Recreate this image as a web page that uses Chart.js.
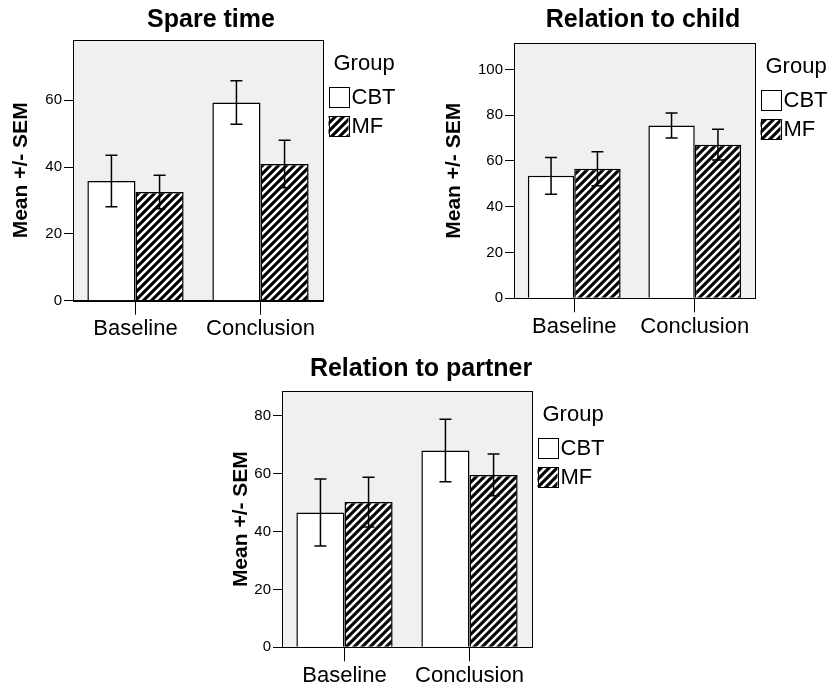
<!DOCTYPE html>
<html>
<head>
<meta charset="utf-8">
<title>Mean +/- SEM by group</title>
<script src="https://cdn.jsdelivr.net/npm/chart.js"></script>
<style>
  html, body { margin: 0; padding: 0; background: #fff; }
  #wrap { position: relative; width: 829px; height: 686px; overflow: hidden; }
  canvas { position: absolute; }
</style>
</head>
<body>
<div id="wrap">
  <canvas id="spareTime"></canvas>
  <canvas id="relChild"></canvas>
  <canvas id="relPartner"></canvas>
</div>
<script>
const categories = ['Baseline', 'Conclusion'];
const groups = ['CBT', 'MF'];

// Spare time
const spareCBT = [35.8, 59.3];
const spareMF = [32.5, 40.9];
const spareCBTsem = [7.7, 6.5];
const spareMFsem = [5.0, 7.1];
const spareTicks = [0, 20, 40, 60];

// Relation to child
const childCBT = [53.5, 75.5];
const childMF = [56.6, 67.1];
const childCBTsem = [8.0, 5.5];
const childMFsem = [7.4, 6.7];
const childTicks = [0, 20, 40, 60, 80, 100];

// Relation to partner
const partnerCBT = [46.6, 68.0];
const partnerMF = [50.2, 59.6];
const partnerCBTsem = [11.6, 10.8];
const partnerMFsem = [8.6, 7.2];
const partnerTicks = [0, 20, 40, 60, 80];

const FONT = "'Liberation Sans', Arial, sans-serif";
Chart.defaults.font.family = FONT;
Chart.defaults.color = '#000';

function hatch() {
  const c = document.createElement('canvas');
  c.width = c.height = 8;
  const g = c.getContext('2d');
  g.fillStyle = '#000';
  g.fillRect(0, 0, 8, 8);
  g.strokeStyle = '#fff';
  g.lineWidth = 2.6;
  g.beginPath();
  g.moveTo(-1, 9); g.lineTo(9, -1);
  g.moveTo(-1, 1); g.lineTo(1, -1);
  g.moveTo(7, 9); g.lineTo(9, 7);
  g.stroke();
  return g.createPattern(c, 'repeat');
}

// grey plot background + black frame
const plotFrame = {
  id: 'plotFrame',
  beforeDraw(chart) {
    const a = chart.chartArea, ctx = chart.ctx;
    ctx.save();
    ctx.fillStyle = '#f0f0f0';
    ctx.fillRect(a.left, a.top, a.right - a.left, a.bottom - a.top);
    ctx.restore();
  },
  afterDraw(chart) {
    const a = chart.chartArea, ctx = chart.ctx;
    ctx.save();
    ctx.strokeStyle = '#000';
    ctx.lineWidth = 1;
    ctx.strokeRect(Math.round(a.left) + 0.5, Math.round(a.top) + 0.5,
      Math.round(a.right - a.left), Math.round(a.bottom - a.top));
    ctx.restore();
  }
};

const errorBars = {
  id: 'errorBars',
  afterDatasetsDraw(chart) {
    const ctx = chart.ctx, y = chart.scales.y;
    ctx.save();
    ctx.strokeStyle = '#000';
    ctx.lineWidth = 1.5;
    chart.data.datasets.forEach((ds, i) => {
      chart.getDatasetMeta(i).data.forEach((bar, j) => {
        const hi = y.getPixelForValue(ds.data[j] + ds.sem[j]);
        const lo = y.getPixelForValue(ds.data[j] - ds.sem[j]);
        ctx.beginPath();
        ctx.moveTo(bar.x, hi); ctx.lineTo(bar.x, lo);
        ctx.moveTo(bar.x - 6, hi); ctx.lineTo(bar.x + 6, hi);
        ctx.moveTo(bar.x - 6, lo); ctx.lineTo(bar.x + 6, lo);
        ctx.stroke();
      });
    });
    ctx.restore();
  }
};

// built-in legend is hidden but keeps a fixed width on the right
const legendWidth = {
  id: 'legendWidth',
  beforeLayout(chart, args, opts) {
    const lg = chart.legend;
    if (!lg || lg.$fixed) return;
    const fit = lg.fit;
    lg.fit = function () { fit.call(this); this.width = opts.width; };
    lg.$fixed = true;
  }
};

// SPSS style "Group" legend, tight box/label spacing
const groupLegend = {
  id: 'groupLegend',
  afterDraw(chart) {
    const ctx = chart.ctx, a = chart.chartArea;
    const x = a.right + 5.5;
    ctx.save();
    ctx.font = '22px ' + FONT;
    ctx.textBaseline = 'middle';
    ctx.fillStyle = '#000';
    ctx.fillText('Group', x + 5, a.top + 23.5);
    chart.data.datasets.forEach((ds, i) => {
      const y = Math.round(a.top + 47 + i * 28.5);
      ctx.fillStyle = ds.backgroundColor;
      ctx.fillRect(x, y, 20, 20);
      ctx.strokeStyle = '#000';
      ctx.lineWidth = 1;
      ctx.strokeRect(Math.round(x) + 0.5, y + 0.5, 20, 20);
      ctx.fillStyle = '#000';
      ctx.fillText(ds.label, x + 23, y + 11);
    });
    ctx.restore();
  }
};

function panel(id, box, title, cbt, mf, cbtSem, mfSem, ticks, yMax) {
  const canvas = document.getElementById(id);
  canvas.width = box.w;
  canvas.height = box.h;
  canvas.style.left = box.left + 'px';
  canvas.style.top = box.top + 'px';

  return new Chart(canvas.getContext('2d'), {
    type: 'bar',
    data: {
      labels: categories,
      datasets: [
        { label: groups[0], data: cbt, sem: cbtSem, backgroundColor: '#fff',
          borderColor: '#000', borderWidth: 1.5 },
        { label: groups[1], data: mf, sem: mfSem, backgroundColor: hatch(),
          borderColor: '#000', borderWidth: 1.5 }
      ]
    },
    options: {
      responsive: false,
      animation: false,
      categoryPercentage: 0.77,
      barPercentage: 1,
      layout: { padding: 0 },
      plugins: {
        title: {
          display: true,
          text: title,
          color: '#000',
          font: { size: 25, weight: 'bold' },
          padding: { top: box.titleTop, bottom: box.titleBottom }
        },
        legend: { display: false, position: 'right' },
        legendWidth: { width: box.legendW },
        tooltip: { enabled: false }
      },
      scales: {
        x: {
          offset: true,
          grid: { offset: false, drawOnChartArea: false, tickLength: 14, color: '#000' },
          border: { color: '#000' },
          ticks: { color: '#000', font: { size: 22 }, padding: 1 },
          afterFit: s => { s.height = box.xh; }
        },
        y: {
          min: 0,
          max: yMax,
          afterBuildTicks: s => { s.ticks = ticks.map(v => ({ value: v })); },
          grid: { drawOnChartArea: false, tickLength: 9, color: '#000' },
          border: { color: '#000' },
          ticks: { color: '#000', font: { size: 15 }, padding: 2 },
          title: {
            display: true,
            text: 'Mean +/- SEM',
            color: '#000',
            font: { size: 21, weight: 'bold' },
            padding: { top: 9, bottom: 0 }
          },
          afterFit: s => { s.width = box.yw; }
        }
      }
    },
    plugins: [plotFrame, errorBars, legendWidth, groupLegend]
  });
}

panel('spareTime',
  { left: 0, top: 0, w: 422, h: 345, yw: 73, xh: 44.3, titleTop: 5, titleBottom: 5, legendW: 99 },
  'Spare time', spareCBT, spareMF, spareCBTsem, spareMFsem, spareTicks, 78);

panel('relChild',
  { left: 433, top: 0, w: 420, h: 343, yw: 81, xh: 44.7, titleTop: 5, titleBottom: 8.3, legendW: 98 },
  'Relation to child', childCBT, childMF, childCBTsem, childMFsem, childTicks, 111.4);

panel('relPartner',
  { left: 220, top: 345, w: 402, h: 341, yw: 62, xh: 38.7, titleTop: 9, titleBottom: 7, legendW: 90 },
  'Relation to partner', partnerCBT, partnerMF, partnerCBTsem, partnerMFsem, partnerTicks, 88.6);
</script>
</body>
</html>
